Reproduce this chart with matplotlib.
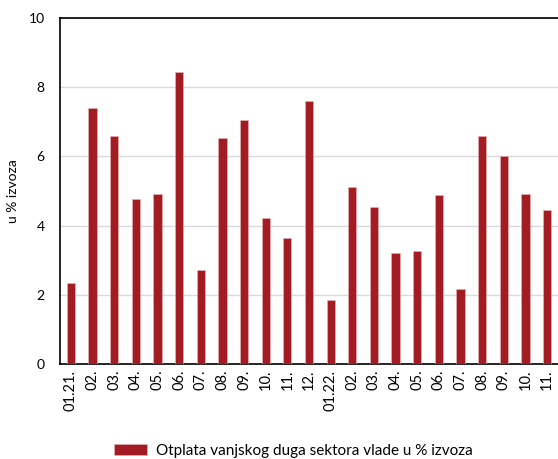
import matplotlib.pyplot as plt

plt.rcParams['font.family'] = ['Lato', 'DejaVu Sans']

months = ['01.21.', '02.', '03.', '04.', '05.', '06.', '07.', '08.', '09.', '10.', '11.', '12.',
          '01.22.', '02.', '03.', '04.', '05.', '06.', '07.', '08.', '09.', '10.', '11.']
otplata = [2.34, 7.40, 6.60, 4.77, 4.90, 8.45, 2.72, 6.52, 7.05, 4.23, 3.63, 7.61,
           1.85, 5.12, 4.54, 3.20, 3.27, 4.88, 2.16, 6.58, 6.00, 4.92, 4.46]
series_name = 'Otplata vanjskog duga sektora vlade u % izvoza'

fig = plt.figure(figsize=(5.58, 4.59), dpi=100)
ax = fig.add_axes([60 / 558, 95 / 459, 498 / 558, 346 / 459])

x = range(len(months))
bars = ax.bar(x, otplata, width=0.38, color='#a31c24', edgecolor='#e8b5b8', linewidth=0.4,
              label=series_name, zorder=3)

ax.set_xlim(-0.5, len(months) - 0.5)
ax.set_ylim(0, 10)
ax.set_yticks([0, 2, 4, 6, 8, 10])
ax.set_xticks(list(x))
ax.set_xticklabels(months, rotation=90, fontsize=10.5)
ax.tick_params(axis='y', length=0, pad=11, labelsize=10)
ax.tick_params(axis='x', length=0, pad=4)
ax.grid(axis='y', color='#d9d9d9', linewidth=1, zorder=0)
ax.set_ylabel('u % izvoza', fontsize=10, labelpad=7)

for s in ['left', 'bottom', 'top']:
    ax.spines[s].set_color('black')
    ax.spines[s].set_linewidth(1.2)
ax.spines['right'].set_visible(False)

fig.legend(handles=[bars], loc='upper left', bbox_to_anchor=(106 / 558, 1 - 436 / 459),
           frameon=False, fontsize=11, borderpad=0, handlelength=2.2, handleheight=0.75,
           handletextpad=0.6)

fig.savefig('out.png', dpi=100)
